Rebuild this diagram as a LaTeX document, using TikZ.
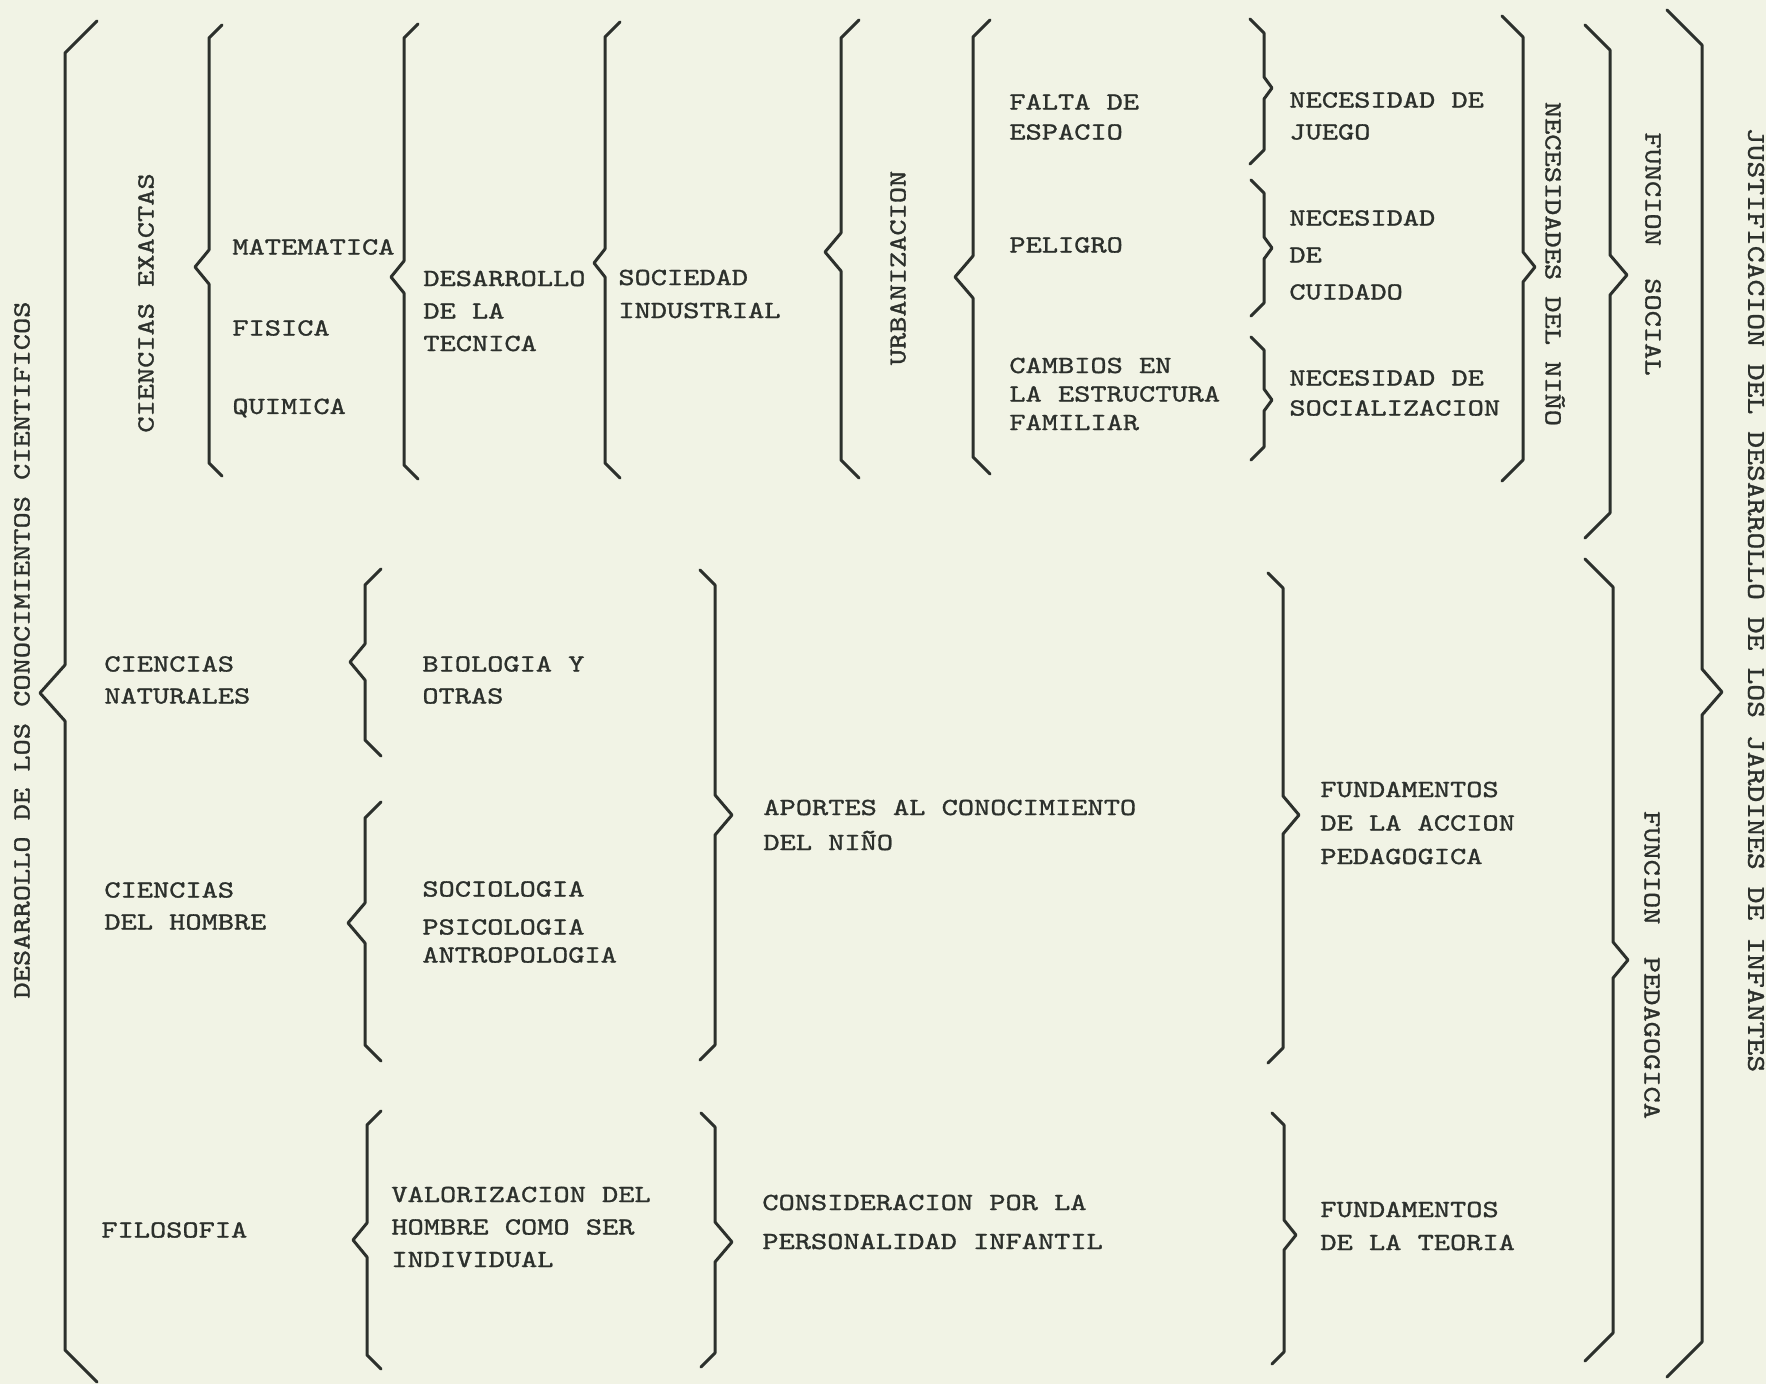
\documentclass[tikz,border=0pt]{standalone}
\usepackage{fontspec}
\setmonofont{lmmono10-regular.otf}[FakeStretch=1.255, FakeBold=1.2]
\usepackage{tikz}

\definecolor{paper}{RGB}{241,243,229}
\definecolor{ink}{RGB}{44,48,44}

\tikzset{
  lbl/.style={font=\ttfamily\fontsize{12.3}{16.5}\selectfont, text=ink, inner sep=0pt, anchor=west, align=left},
  vlbl/.style={font=\ttfamily\fontsize{12.3}{16.5}\selectfont, text=ink, inner sep=0pt},
  bracestroke/.style={draw=ink, line width=1.5pt, line join=round, line cap=round},
}

\begin{document}
\begin{tikzpicture}[x=0.5pt, y=-0.5pt]
			% sheet of paper
			\fill[paper] (0,0) rectangle (1766,1384);
			\useasboundingbox (0,0) rectangle (1766,1384);
			
			% braces: name/x/top/bottom/kink/side (1 = left brace, -1 = right brace)/hook/kink depth
			\foreach \n/\x/\yt/\yb/\yk/\s/\hk/\kd in
			{ciencia/65/53/1350/693/1/32/25,
				exactas/209/38/463/267/1/13/14,
				tecnica/404/38/465/277/1/14/13,
				industria/605/37/463/263/1/15/11,
				urbe/841/38/460/252/1/18/16,
				ciudad/973/37/457/277/1/17/18,
				juego/1264/33/150/88/-1/14/8,
				cuidado/1264/193/303/248/-1/13/8,
				socializ/1264/350/447/400/-1/13/8,
				nino/1523/37/460/267/-1/21/12,
				fsocial/1610/50/513/275/-1/25/17,
				fpedag/1613/587/1333/960/-1/28/15,
				justif/1702/45/1342/692/-1/35/20,
				natural/365/585/740/662/1/16/15,
				hombre/365/818/1045/923/1/16/17,
				aportes/715/585/1045/815/-1/15/17,
				accion/1283/588/1048/815/-1/15/16,
				valor/367/1125/1355/1240/1/14/14,
				persona/715/1127/1353/1242/-1/14/17,
				teoria/1284/1125/1352/1235/-1/12/12}{
				\coordinate (\n-t) at (\x,\yt);
				\coordinate (\n-k) at ({\x-(\s)*\kd},\yk);
				\coordinate (\n-b) at (\x,\yb);
				\draw[bracestroke] ([shift={({(\s)*\hk},-\hk)}]\n-t) -- (\n-t) -- (\x,{\yk-\kd-3})
				-- (\n-k) -- (\x,{\yk+\kd+3}) -- (\n-b) -- ++({(\s)*\hk},\hk);
			}
			
			% horizontal labels: name/x/y/line skip/text
			\foreach \n/\x/\y/\sk/\txt in
			{tmate/232/247/16.5/MATEMATICA,
				tfis/232/328/16.5/FISICA,
				tquim/232/408/16.5/QUIMICA,
				tdes/423/311/16.25/{DESARROLLO\\DE LA\\TECNICA},
				tsoc/618/294/16.5/{SOCIEDAD\\INDUSTRIAL},
				tfalta/1009/117/15/{FALTA DE\\ESPACIO},
				tpel/1009/245/16.5/PELIGRO,
				tcamb/1009/394/14.25/{CAMBIOS EN\\LA ESTRUCTURA\\FAMILIAR},
				tjuego/1289/116/16/{NECESIDAD DE\\JUEGO},
				tcuid/1289/255/18.5/{NECESIDAD\\DE\\CUIDADO},
				tsocz/1289/393/15/{NECESIDAD DE\\SOCIALIZACION},
				tnat/104/680/16/{CIENCIAS\\NATURALES},
				tbio/422/680/16/{BIOLOGIA Y\\OTRAS},
				thom/104/906/16/{CIENCIAS\\DEL HOMBRE},
				tsocio/422/889/16.5/SOCIOLOGIA,
				tpsi/422/941/14/{PSICOLOGIA\\ANTROPOLOGIA},
				tapor/763/825/17.5/{APORTES AL CONOCIMIENTO\\DEL NIÑO},
				tacc/1320/823/16.75/{FUNDAMENTOS\\DE LA ACCION\\PEDAGOGICA},
				tfilo/101/1230/16.5/FILOSOFIA,
				tval/391/1227/16.25/{VALORIZACION DEL\\HOMBRE COMO SER\\INDIVIDUAL},
				tcons/762/1222/19.5/{CONSIDERACION POR LA\\PERSONALIDAD INFANTIL},
				tteo/1320/1226/16.5/{FUNDAMENTOS\\DE LA TEORIA}}{
				\node[lbl, font=\ttfamily\fontsize{12.3}{\sk}\selectfont] (\n) at (\x,\y) {\txt};
			}
			
			% vertical labels
			\node[vlbl, rotate=90] (tconoc) at (22,650) {DESARROLLO DE LOS CONOCIMIENTOS CIENTIFICOS};
			\node[vlbl, rotate=90] (texac) at (146,303) {CIENCIAS EXACTAS};
			\node[vlbl, rotate=90] (turb) at (898,268) {URBANIZACION};
			\node[vlbl, rotate=-90] (tnino) at (1555,264) {NECESIDADES DEL NIÑO};
			\node[vlbl, rotate=-90] (tfsoc) at (1653,254) {FUNCION~~SOCIAL};
			\node[vlbl, rotate=-90] (tfped) at (1652,965) {FUNCION~~PEDAGOGICA};
			\node[vlbl, rotate=-90, font=\ttfamily\fontsize{12.8}{16.5}\selectfont] (tjust) at (1756,600)
			{JUSTIFICACION DEL DESARROLLO DE LOS JARDINES DE INFANTES};
\end{tikzpicture}
\end{document}
